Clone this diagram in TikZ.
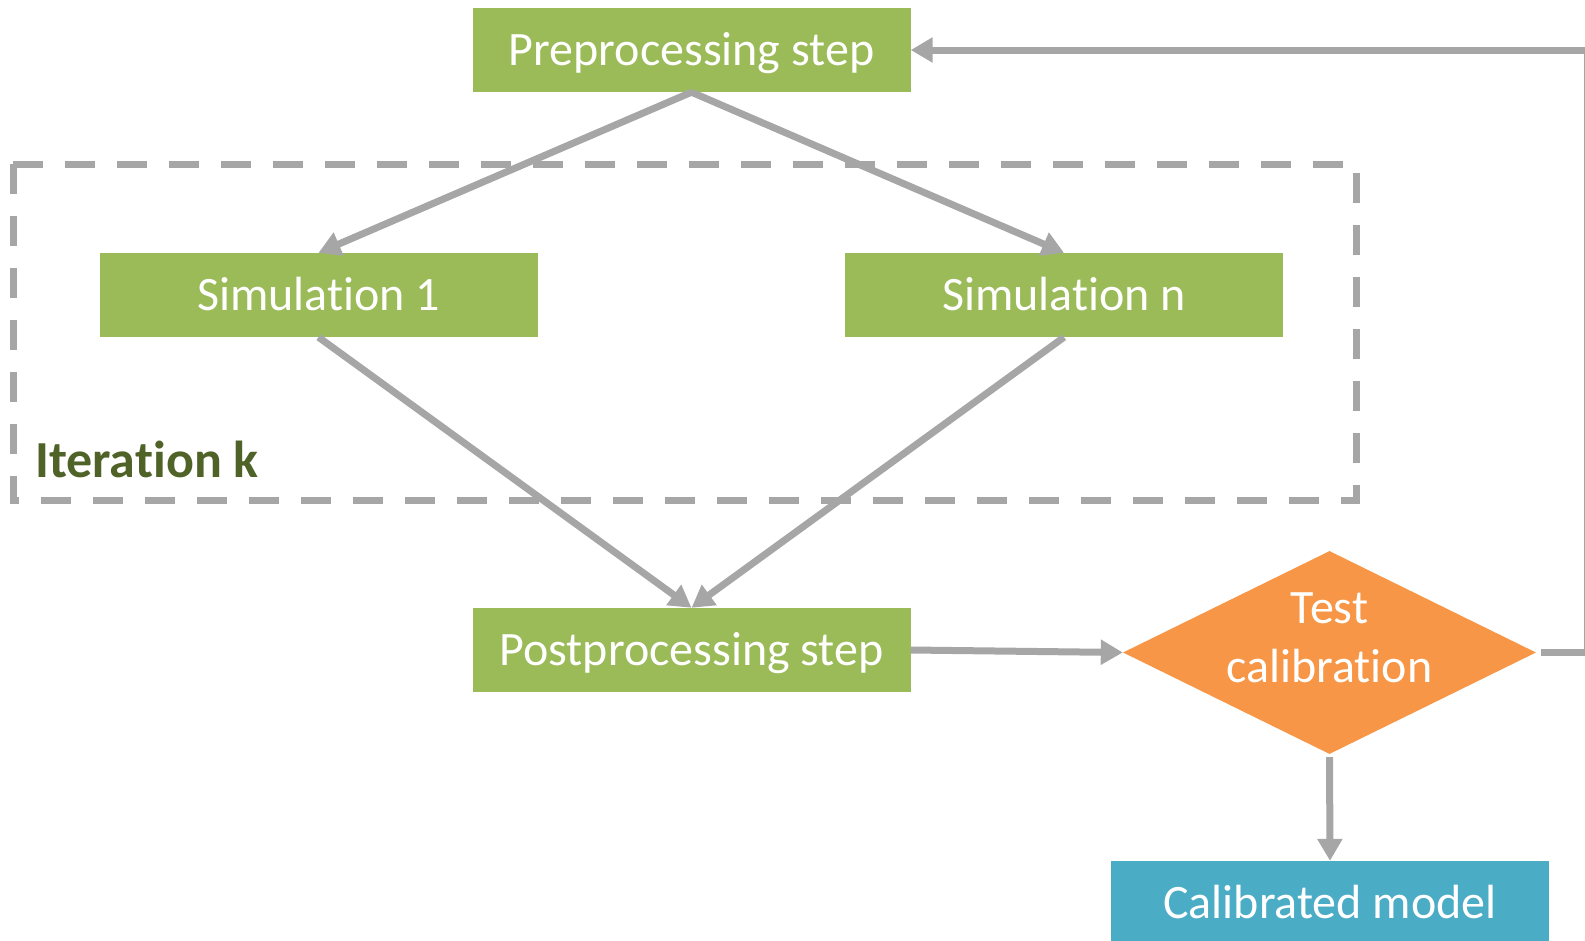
\documentclass[tikz,border=0pt]{standalone}
\usepackage{fontspec}
\setmainfont{Carlito}[RawFeature={-liga;-clig;-calt;-dlig}]
\usetikzlibrary{arrows.meta,shapes.geometric}
\definecolor{stepgreen}{HTML}{9BBB59}
\definecolor{testorange}{HTML}{F79646}
\definecolor{modelblue}{HTML}{4BACC6}
\definecolor{linegray}{HTML}{A6A6A6}
\definecolor{labelgreen}{HTML}{4F6228}
\begin{document}
\begin{tikzpicture}[x=1pt,y=-1pt,
    greenbox/.style={fill=stepgreen,text=white,minimum width=438pt,minimum height=84pt,
      inner sep=0pt,text height=40pt,text depth=9pt,font=\fontsize{48}{58}\selectfont},
    bluebox/.style={greenbox,fill=modelblue},
    testdiamond/.style={diamond,fill=testorange,aspect=2.03,
      minimum width=413pt,minimum height=203pt,inner sep=0pt},
    testtext/.style={text=white,align=center,inner sep=0pt,font=\fontsize{48}{59}\selectfont},
    flow/.style={draw=linegray,line width=7pt,-{Triangle[length=22pt,width=24pt]}},
    dashbox/.style={draw=linegray,line width=7pt,dash pattern=on 30pt off 22pt}]
    \useasboundingbox (0,0) rectangle (1585,940);
    % iteration frame
    \draw[dashbox] (13,164) rectangle (1356,500);
    \node[anchor=base west,text=labelgreen,inner sep=0pt,
      font=\fontsize{52}{62}\selectfont\bfseries] at (35,477) (iter) {Iteration k};
    \node[greenbox] at (691.5,50) (pre) {Preprocessing step};
    \node[greenbox] at (318.5,295) (sim1) {Simulation 1};
    \node[greenbox] at (1064,295) (simn) {Simulation n};
    \node[greenbox] at (691.5,650) (post) {Postprocessing step};
    \node[testdiamond] at (1329.5,652.5) (test) {};
    \node[testtext] at ([yshift=15pt]test.center) (testlabel) {Test\\calibration};
    \node[bluebox] at (1330,903) (model) {Calibrated model};
    \draw[flow] (pre.south) -- (sim1.north);
    \draw[flow] (pre.south) -- (simn.north);
    \draw[flow] (sim1.south) -- (post.north);
    \draw[flow] (simn.south) -- (post.north);
    \draw[flow] (post.east) -- (test.west);
    \draw[flow,shorten <=3pt] (test.south) -- (model.north);
    \draw[flow,shorten <=5pt] (test.east) -- ++(51,0) |- (pre.east);
\end{tikzpicture}
\end{document}
